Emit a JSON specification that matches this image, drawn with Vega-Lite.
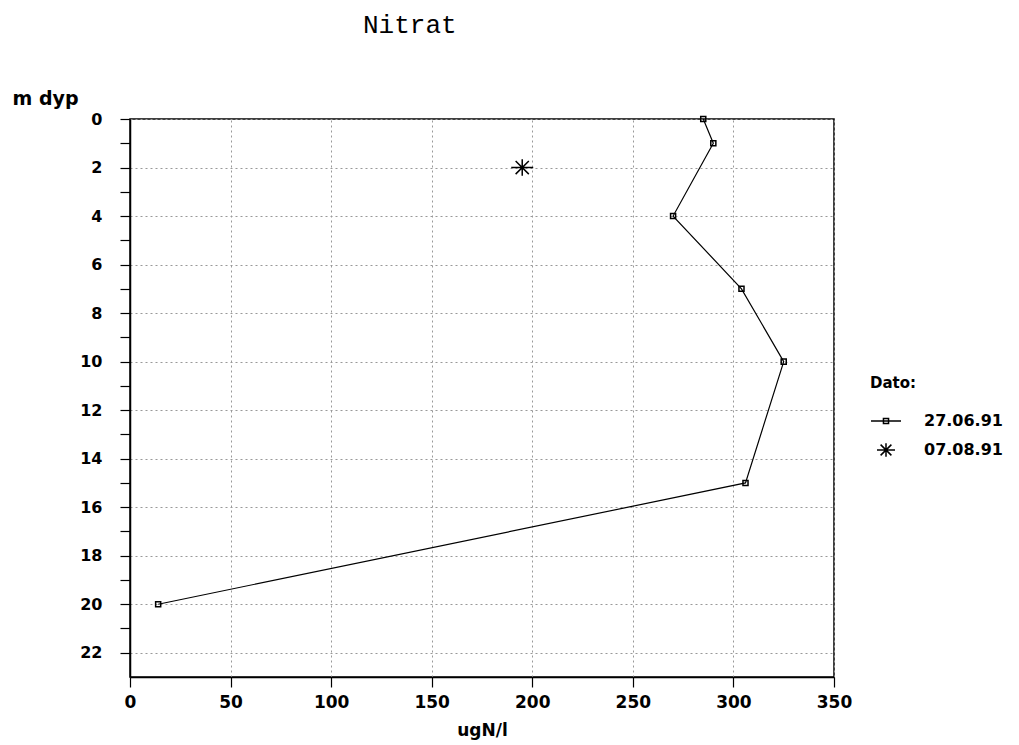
{
  "$schema": "https://vega.github.io/schema/vega-lite/v6.json",
  "autosize": "none",
  "width": 704,
  "height": 558,
  "padding": {"left": 130, "top": 119, "right": 185, "bottom": 68},
  "background": "white",
  "config": {
    "view": {"stroke": "black", "strokeWidth": 1.5},
    "axis": {"labelFont": "DejaVu Sans", "labelFontWeight": "bold", "labelFontSize": 16, "labelColor": "black",
             "titleFont": "DejaVu Sans", "titleFontWeight": "bold", "titleColor": "black",
             "domainColor": "black", "domainWidth": 1.5, "tickColor": "black", "tickWidth": 1.2, "tickSize": 10,
             "gridColor": "#999999", "gridDash": [2, 3], "gridWidth": 1}
  },
  "title": {"text": "Nitrat", "font": "Liberation Mono", "fontSize": 26, "fontWeight": "normal", "color": "black",
            "anchor": "start", "frame": "group", "dx": 233, "dy": -47},
  "data": {"values": [
    {"dato": "27.06.91", "ugN": 285, "dyp": 0},
    {"dato": "27.06.91", "ugN": 290, "dyp": 1},
    {"dato": "27.06.91", "ugN": 270, "dyp": 4},
    {"dato": "27.06.91", "ugN": 304, "dyp": 7},
    {"dato": "27.06.91", "ugN": 325, "dyp": 10},
    {"dato": "27.06.91", "ugN": 306, "dyp": 15},
    {"dato": "27.06.91", "ugN": 14, "dyp": 20},
    {"dato": "07.08.91", "ugN": 195, "dyp": 2}
  ]},
  "encoding": {
    "x": {"field": "ugN", "type": "quantitative",
          "scale": {"domain": [0, 350], "nice": false, "zero": false},
          "axis": {"values": [0, 50, 100, 150, 200, 250, 300, 350], "title": "ugN/l", "titleFontSize": 17,
                   "labelFontSize": 17, "labelPadding": 7, "titlePadding": 12, "labelFlush": false}},
    "y": {"field": "dyp", "type": "quantitative",
          "scale": {"domain": [0, 23], "reverse": true, "nice": false, "zero": false},
          "axis": {"values": [0,1,2,3,4,5,6,7,8,9,10,11,12,13,14,15,16,17,18,19,20,21,22],
                   "labelExpr": "datum.value % 2 == 0 ? datum.label : ''", "labelOverlap": false,
                   "labelPadding": 18,
                   "gridOpacity": {"condition": {"test": "datum.value % 2 == 0", "value": 1}, "value": 0},
                   "title": "m dyp", "titleFontSize": 19, "titleAngle": 0, "titleAlign": "left",
                   "titleBaseline": "alphabetic", "titleX": -118, "titleY": -15}}
  },
  "layer": [
    {
      "transform": [{"filter": "datum.dato == '27.06.91'"}],
      "mark": {"type": "line", "color": "black", "strokeWidth": 1.2},
      "encoding": {"order": {"field": "dyp", "type": "quantitative"}}
    },
    {
      "transform": [{"filter": "datum.dato == '27.06.91'"}],
      "mark": {"type": "point", "filled": false, "strokeWidth": 1.5, "opacity": 1},
      "encoding": {
        "shape": {"value": "M-0.23,-0.23H0.23V0.23H-0.23Z"},
        "size": {"value": 484},
        "color": {"field": "dato", "type": "nominal",
                  "scale": {"domain": ["27.06.91", "07.08.91"], "range": ["black", "black"]},
                  "legend": {"orient": "none", "legendX": 740, "legendY": 257, "title": "Dato:",
                             "titleFont": "DejaVu Sans", "titleFontWeight": "bold", "titleFontSize": 15, "titleColor": "black",
                             "titlePadding": 14,
                             "labelFont": "DejaVu Sans", "labelFontWeight": "bold", "labelFontSize": 16, "labelColor": "black",
                             "labelOffset": 22, "rowPadding": 5, "symbolSize": 900,
                             "symbolStrokeWidth": 1.5, "symbolFillColor": "transparent",
                             "symbolType": {"expr": "datum.value == '27.06.91' ? 'M-1,0H1M-0.17,-0.17H0.17V0.17H-0.17Z' : 'M-0.6,0H0.6M0,-0.45V0.45M-0.36,-0.36L0.36,0.36M-0.36,0.36L0.36,-0.36'"}}}
      }
    },
    {
      "transform": [{"filter": "datum.dato == '07.08.91'"}],
      "mark": {"type": "point", "filled": false, "strokeWidth": 1.5, "opacity": 1},
      "encoding": {
        "shape": {"value": "M-1,0H1M0,-0.75V0.75M-0.6,-0.6L0.6,0.6M-0.6,0.6L0.6,-0.6"},
        "size": {"value": 484},
        "color": {"field": "dato", "type": "nominal"}
      }
    }
  ]
}
